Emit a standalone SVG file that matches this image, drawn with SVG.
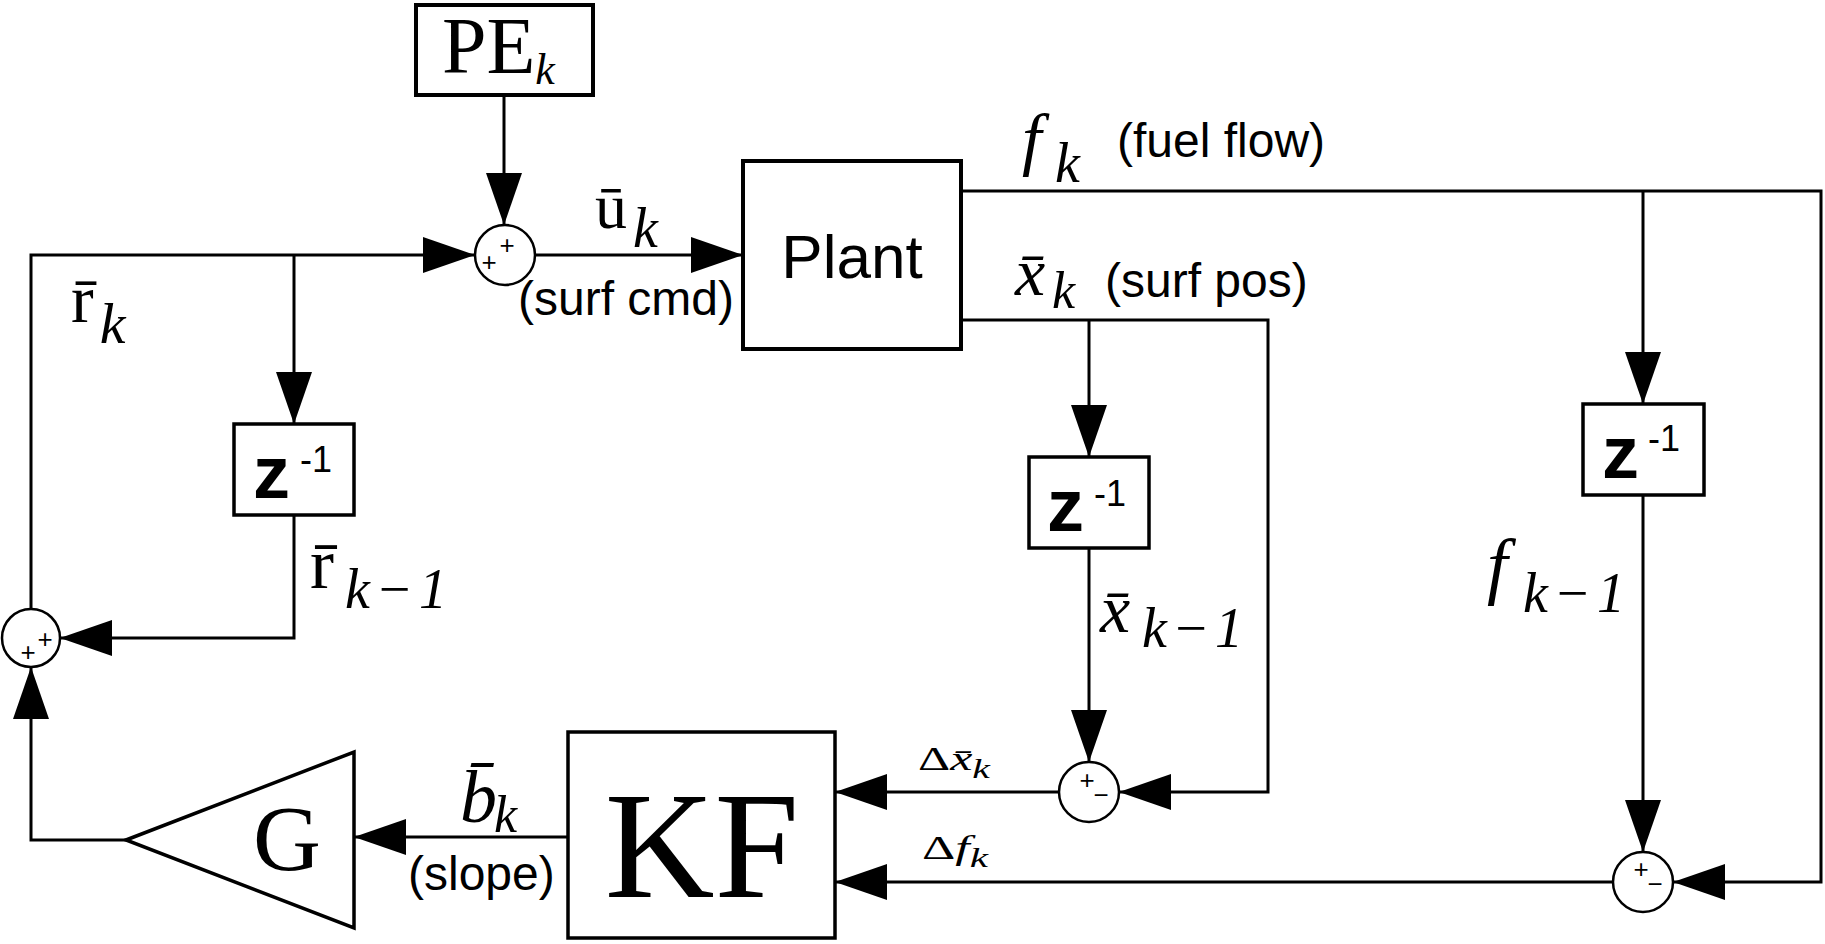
<svg xmlns="http://www.w3.org/2000/svg" width="1825" height="944" viewBox="0 0 1825 944">
<defs>
<marker id="ah" viewBox="0 0 52 36" refX="52" refY="18" markerWidth="52" markerHeight="36" markerUnits="userSpaceOnUse" orient="auto"><path d="M0,0 L52,18 L0,36 Z" fill="#000"/></marker>
</defs>
<style>
.box{fill:#fff;stroke:#000;stroke-width:3.5}
.sum{fill:#fff;stroke:#000;stroke-width:2.5}
.wire{fill:none;stroke:#000;stroke-width:3;marker-end:url(#ah)}
.m{font-family:"Liberation Serif","DejaVu Serif",serif;fill:#000}
.i{font-style:italic}
.s{font-family:"Liberation Sans",Arial,sans-serif;fill:#000;font-size:48px}
.sg{font-family:"Liberation Sans",Arial,sans-serif;font-size:26px;text-anchor:middle;fill:#000}
.z{font-family:"Liberation Sans",Arial,sans-serif;font-weight:bold;font-size:74px;fill:#000}
.zs{font-family:"Liberation Sans",Arial,sans-serif;font-size:36px;fill:#000}
</style>
<rect width="1825" height="944" fill="#fff"/>

<g id="connectors">
<path class="wire" d="M504,95 V225"/>
<path class="wire" d="M31,609 V255 H475"/>
<path class="wire" d="M294,255 V424"/>
<path class="wire" d="M294,515 V638 H60"/>
<path class="wire" d="M535,255 H743"/>
<path class="wire" d="M126,840 H31 V667"/>
<path class="wire" d="M568,837 H354"/>
<path class="wire" d="M961,191 H1821 V882 H1673"/>
<path class="wire" d="M1643,191 V404"/>
<path class="wire" d="M1643,495 V852"/>
<path class="wire" d="M1613,882 H835"/>
<path class="wire" d="M961,320 H1268 V792 H1119"/>
<path class="wire" d="M1089,320 V457"/>
<path class="wire" d="M1089,548 V762"/>
<path class="wire" d="M1059,792 H835"/>
</g>

<g id="pe">
<rect class="box" x="416" y="5" width="177" height="90" style="stroke-width:4"/>
<text class="m" x="442" y="73" font-size="80">PE<tspan class="i" font-size="44" dy="11">k</tspan></text>
</g>

<g id="sum1">
<circle class="sum" cx="505" cy="255" r="30"/>
<text class="sg" x="489" y="271">+</text>
<text class="sg" x="507" y="254">+</text>
</g>

<g id="plant">
<rect class="box" x="743" y="161" width="218" height="188" style="stroke-width:4"/>
<text x="852" y="278" font-family="Liberation Sans, Arial, sans-serif" font-size="62" text-anchor="middle">Plant</text>
</g>

<g id="z1">
<rect class="box" x="234" y="424" width="120" height="91"/>
<text class="z" x="253" y="498">z</text>
<text class="zs" x="300" y="472">-1</text>
</g>

<g id="z2">
<rect class="box" x="1029" y="457" width="120" height="91"/>
<text class="z" x="1047" y="531">z</text>
<text class="zs" x="1094" y="506">-1</text>
</g>

<g id="z3">
<rect class="box" x="1583" y="404" width="121" height="91"/>
<text class="z" x="1602" y="478">z</text>
<text class="zs" x="1648" y="451">-1</text>
</g>

<g id="sum3">
<circle class="sum" cx="31" cy="638" r="29"/>
<text class="sg" x="28" y="661">+</text>
<text class="sg" x="45" y="648">+</text>
</g>

<g id="sum4">
<circle class="sum" cx="1089" cy="792" r="30"/>
<text class="sg" x="1087" y="789">+</text>
<text class="sg" x="1101" y="804">−</text>
</g>

<g id="sum5">
<circle class="sum" cx="1643" cy="882" r="30"/>
<text class="sg" x="1641" y="878">+</text>
<text class="sg" x="1655" y="893">−</text>
</g>

<g id="kf">
<rect class="box" x="568" y="732" width="267" height="206"/>
<text class="m" x="702" y="897" font-size="152" text-anchor="middle">KF</text>
</g>

<g id="g">
<polygon points="126,840 354,752 354,928" fill="#fff" stroke="#000" stroke-width="3.5" stroke-linejoin="miter"/>
<text class="m" x="287" y="870" font-size="94" text-anchor="middle">G</text>
</g>

<g id="labels">
<text class="m" x="71" y="322" font-size="68">r̄<tspan class="i" font-size="58" dx="6" dy="21">k</tspan></text>
<text class="m" x="310" y="588" font-size="72">r̄<tspan class="i" font-size="56" x="345" dy="20" textLength="102">k−1</tspan></text>
<text class="m" x="595" y="228" font-size="64">ū<tspan class="i" font-size="56" x="633" dy="19">k</tspan></text>
<text class="s" x="518" y="315">(surf cmd)</text>
<text class="m i" x="1022" y="162" font-size="70">f<tspan font-size="56" x="1055" dy="20">k</tspan></text>
<text class="s" x="1117" y="157">(fuel flow)</text>
<text class="m i" x="1015" y="295" font-size="68">x̄<tspan font-size="52" x="1052" dy="13">k</tspan></text>
<text class="s" x="1105" y="297">(surf pos)</text>
<text class="m i" x="1100" y="632" font-size="68">x̄<tspan font-size="56" x="1142" dy="15" textLength="101">k−1</tspan></text>
<text class="m i" x="1487" y="590" font-size="74">f<tspan font-size="56" x="1523" dy="22" textLength="102">k−1</tspan></text>
<text class="m i" x="460" y="822" font-size="74">b̄<tspan font-size="52" x="494" dy="10">k</tspan></text>
<text class="s" x="408" y="890">(slope)</text>
<text class="m" x="918" y="770" font-size="34" textLength="72" lengthAdjust="spacingAndGlyphs">Δ<tspan class="i">x̄</tspan><tspan class="i" font-size="27" dy="8">k</tspan></text>
<text class="m" x="922" y="859" font-size="34" textLength="66" lengthAdjust="spacingAndGlyphs">Δ<tspan class="i">f</tspan><tspan class="i" font-size="27" dy="8">k</tspan></text>
</g>
</svg>
